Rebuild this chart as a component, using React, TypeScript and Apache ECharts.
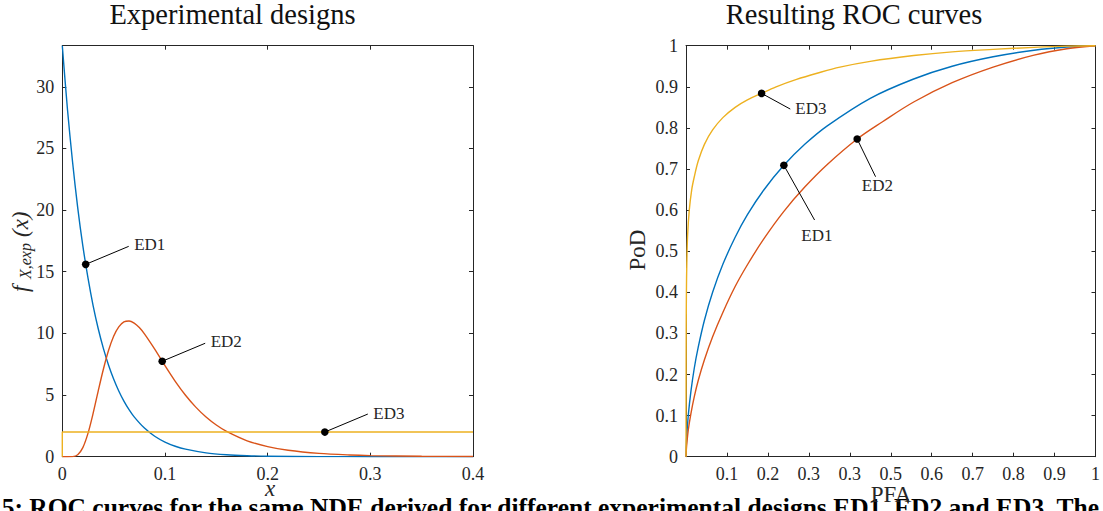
import React, { useEffect, useRef } from 'react';
import * as echarts from 'echarts';

const FONT = '"Liberation Serif", "Times New Roman", serif';
const TEXT = '#262626';
const AXIS = '#262626';
const BLUE = '#0072BD';
const ORANGE = '#D95319';
const YELLOW = '#EDB120';

// ---- Left panel: densities of the experimental designs ----
const densityXTickLabels = ['0', '0.1', '0.2', '0.3', '0.4'];
const densityYTickLabels = ['0', '5', '10', '15', '20', '25', '30'];

const ed1DensityX = [0, 0.005, 0.01, 0.015, 0.02, 0.025, 0.03, 0.035, 0.04, 0.045, 0.05, 0.055, 0.06, 0.065, 0.07, 0.08, 0.09, 0.1, 0.11, 0.12, 0.14, 0.16, 0.18, 0.2, 0.25, 0.3, 0.35, 0.4];
const ed1DensityY = [33.33, 28.2, 23.9, 20.2, 17.1, 14.5, 12.26, 10.38, 8.79, 7.44, 6.3, 5.33, 4.51, 3.82, 3.23, 2.32, 1.66, 1.19, 0.85, 0.61, 0.31, 0.16, 0.083, 0.042, 0.008, 0.0015, 0.0003, 0];

const ed2DensityX = [0, 0.005, 0.01, 0.015, 0.02, 0.025, 0.03, 0.035, 0.04, 0.045, 0.05, 0.055, 0.06, 0.065, 0.07, 0.075, 0.08, 0.09, 0.1, 0.11, 0.12, 0.13, 0.14, 0.15, 0.16, 0.18, 0.2, 0.22, 0.25, 0.28, 0.3, 0.35, 0.4];
const ed2DensityY = [0, 0, 0.01, 0.16, 0.74, 1.89, 3.51, 5.34, 7.09, 8.61, 9.77, 10.53, 10.93, 11.0, 10.83, 10.47, 9.96, 8.72, 7.38, 6.11, 4.98, 4.02, 3.22, 2.57, 2.05, 1.29, 0.82, 0.52, 0.27, 0.14, 0.09, 0.034, 0.013];

const ed3DensityX = [0, 0, 0.4];
const ed3DensityY = [0, 2, 2];

const densityMarkerNames = ['ED1', 'ED2', 'ED3'];
const densityMarkerX = [0.0228, 0.0973, 0.2557];
const densityMarkerY = [15.6, 7.74, 2];

// ---- Right panel: ROC curves ----
const rocXTickLabels = ['', '0.1', '0.2', '0.3', '0.3', '0.5', '0.6', '0.7', '0.8', '0.9', '1'];
const rocYTickLabels = ['0', '0.1', '0.2', '0.3', '0.4', '0.5', '0.6', '0.7', '0.8', '0.9', '1'];

const ed1RocX = [0, 0.0005, 0.002, 0.006, 0.012, 0.02, 0.03, 0.045, 0.065, 0.09, 0.12, 0.15, 0.19, 0.239, 0.29, 0.345, 0.45, 0.556, 0.65, 0.75, 0.85, 0.93, 1];
const ed1RocY = [0, 0.021, 0.053, 0.105, 0.159, 0.214, 0.267, 0.332, 0.4, 0.468, 0.534, 0.589, 0.649, 0.709, 0.76, 0.805, 0.872, 0.919, 0.95, 0.973, 0.989, 0.997, 1];

const ed2RocX = [0, 0.0005, 0.002, 0.006, 0.012, 0.02, 0.03, 0.045, 0.065, 0.09, 0.12, 0.15, 0.19, 0.239, 0.29, 0.345, 0.418, 0.48, 0.556, 0.65, 0.75, 0.85, 0.93, 1];
const ed2RocY = [0, 0.012, 0.032, 0.068, 0.105, 0.145, 0.186, 0.236, 0.292, 0.351, 0.414, 0.467, 0.53, 0.597, 0.656, 0.711, 0.773, 0.815, 0.863, 0.91, 0.948, 0.977, 0.9925, 1];

const ed3RocX = [0, 0.0002, 0.0005, 0.001, 0.002, 0.004, 0.008, 0.014, 0.02, 0.03, 0.045, 0.065, 0.09, 0.12, 0.15, 0.184, 0.22, 0.27, 0.32, 0.376, 0.45, 0.556, 0.65, 0.75, 0.85, 0.93, 1];
const ed3RocY = [0, 0.15, 0.3, 0.4, 0.47, 0.54, 0.6, 0.65, 0.68, 0.72, 0.76, 0.795, 0.825, 0.85, 0.868, 0.884, 0.9, 0.918, 0.933, 0.948, 0.962, 0.976, 0.985, 0.991, 0.996, 0.999, 1];

const rocMarkerNames = ['ED3', 'ED1', 'ED2'];
const rocMarkerX = [0.1846, 0.239, 0.418];
const rocMarkerY = [0.884, 0.709, 0.773];

const captionText = '5: ROC curves for the same NDE derived for different experimental designs ED1, ED2 and ED3. The';

// ---- styles (pixel offsets of the annotation leaders) ----
const densityLabelStyle = [
  { dx: 43, dy: -18, tx: 5.5, ty: -1.5, align: 'left' },
  { dx: 43, dy: -18, tx: 5.5, ty: -1.5, align: 'left' },
  { dx: 43, dy: -18, tx: 5.5, ty: -1, align: 'left' },
];
const rocLabelStyle = [
  { dx: 28.7, dy: 15.7, tx: 5, ty: -0.7, align: 'left' },
  { dx: 30.7, dy: 54.7, tx: 2.3, ty: 15, align: 'center' },
  { dx: 18.4, dy: 37.7, tx: 1.8, ty: 9, align: 'center' },
];

const zip = (xs: number[], ys: number[]) => xs.map((x, i) => [x, ys[i]]);

function lineSeries(xs: number[], ys: number[], color: string, axis: number, smooth: number | boolean) {
  return {
    type: 'line',
    xAxisIndex: axis,
    yAxisIndex: axis,
    data: zip(xs, ys),
    symbol: 'none',
    showSymbol: false,
    smooth,
    lineStyle: { color, width: 1.4 },
    silent: true,
    z: 3,
  };
}

function annotationSeries(axis: number, xs: number[], ys: number[], names: string[], styles: any[]) {
  return {
    type: 'custom',
    xAxisIndex: axis,
    yAxisIndex: axis,
    clip: false,
    silent: true,
    z: 10,
    data: zip(xs, ys),
    renderItem: (params: any, api: any) => {
      const i = params.dataIndex;
      const s = styles[i];
      const p = api.coord([api.value(0), api.value(1)]);
      const ex = p[0] + s.dx;
      const ey = p[1] + s.dy;
      return {
        type: 'group',
        children: [
          { type: 'line', shape: { x1: p[0], y1: p[1], x2: ex, y2: ey }, style: { stroke: '#000', lineWidth: 1 } },
          { type: 'circle', shape: { cx: p[0], cy: p[1], r: 3.8 }, style: { fill: '#000' } },
          {
            type: 'text',
            x: ex + s.tx,
            y: ey + s.ty,
            style: { text: names[i], fill: TEXT, fontFamily: FONT, fontSize: 17, align: s.align, verticalAlign: 'middle' },
          },
        ],
      };
    },
  };
}

function valueAxis(grid: number, position: string, min: number, max: number, interval: number, labels: string[] | null, extra: any = {}) {
  return {
    type: 'value',
    gridIndex: grid,
    position,
    min,
    max,
    interval,
    splitLine: { show: false },
    axisLine: { show: true, onZero: false, lineStyle: { color: AXIS, width: 1 } },
    axisTick: { show: true, inside: true, length: 4, lineStyle: { color: AXIS, width: 1 } },
    axisLabel: labels
      ? {
          show: true,
          margin: 8,
          color: TEXT,
          fontFamily: FONT,
          fontSize: 18,
          showMaxLabel: extra.showMaxLabel,
          formatter: (v: number) => {
            const k = Math.round((v - min) / interval);
            return Math.abs(min + k * interval - v) < 1e-6 && labels[k] !== undefined ? labels[k] : '';
          },
        }
      : { show: false },
  };
}

const option: any = {
  animation: false,
  backgroundColor: '#fff',
  grid: [
    { left: 62.3, top: 45.7, width: 410.7, height: 411 },
    { left: 686, top: 45.7, width: 410, height: 411 },
  ],
  xAxis: [
    valueAxis(0, 'bottom', 0, 0.4, 0.1, densityXTickLabels),
    valueAxis(0, 'top', 0, 0.4, 0.1, null),
    valueAxis(1, 'bottom', 0, 1, 0.1, rocXTickLabels),
    valueAxis(1, 'top', 0, 1, 0.1, null),
  ],
  yAxis: [
    valueAxis(0, 'left', 0, 33.333, 5, densityYTickLabels, { showMaxLabel: false }),
    valueAxis(0, 'right', 0, 33.333, 5, null),
    valueAxis(1, 'left', 0, 1, 0.1, rocYTickLabels),
    valueAxis(1, 'right', 0, 1, 0.1, null),
  ],
  series: [
    lineSeries(ed1DensityX, ed1DensityY, BLUE, 0, 0.3),
    lineSeries(ed2DensityX, ed2DensityY, ORANGE, 0, 0.3),
    lineSeries(ed3DensityX, ed3DensityY, YELLOW, 0, false),
    annotationSeries(0, densityMarkerX, densityMarkerY, densityMarkerNames, densityLabelStyle),
    lineSeries(ed1RocX, ed1RocY, BLUE, 2, 0.35),
    lineSeries(ed2RocX, ed2RocY, ORANGE, 2, 0.35),
    lineSeries(ed3RocX, ed3RocY, YELLOW, 2, 0.35),
    annotationSeries(2, rocMarkerX, rocMarkerY, rocMarkerNames, rocLabelStyle),
  ],
  graphic: [
    { type: 'text', x: 232.5, y: 14.7, style: { text: 'Experimental designs', fill: '#111', fontFamily: FONT, fontSize: 28.5, align: 'center', verticalAlign: 'middle' } },
    { type: 'text', x: 854, y: 14.7, style: { text: 'Resulting ROC curves', fill: '#111', fontFamily: FONT, fontSize: 28.5, align: 'center', verticalAlign: 'middle' } },
    { type: 'text', x: 270, y: 488, style: { text: 'x', fill: TEXT, fontFamily: FONT, fontStyle: 'italic', fontSize: 23, align: 'center', verticalAlign: 'middle' } },
    { type: 'text', x: 891, y: 494, style: { text: 'PFA', fill: TEXT, fontFamily: FONT, fontSize: 23, align: 'center', verticalAlign: 'middle' } },
    { type: 'text', x: 637, y: 250, rotation: Math.PI / 2, style: { text: 'PoD', fill: TEXT, fontFamily: FONT, fontSize: 23, align: 'center', verticalAlign: 'middle' } },
    {
      type: 'group',
      x: 20,
      y: 292,
      rotation: Math.PI / 2,
      children: [
        { type: 'text', x: 0, y: 0, style: { text: 'f', fill: TEXT, fontFamily: FONT, fontStyle: 'italic', fontSize: 23, align: 'left', verticalAlign: 'middle' } },
        { type: 'text', x: 13, y: 5, style: { text: 'X,exp', fill: TEXT, fontFamily: FONT, fontStyle: 'italic', fontSize: 16, align: 'left', verticalAlign: 'middle' } },
        { type: 'text', x: 55, y: 0, style: { text: '(x)', fill: TEXT, fontFamily: FONT, fontStyle: 'italic', fontSize: 23, align: 'left', verticalAlign: 'middle' } },
      ],
    },
    { type: 'text', x: 1.7, y: 507, z: -1, style: { text: captionText, fill: '#000', fontFamily: FONT, fontWeight: 'bold', fontSize: 25.5, align: 'left', verticalAlign: 'middle' } },
  ],
};

export default function App() {
  const ref = useRef<HTMLDivElement>(null);
  useEffect(() => {
    const chart = echarts.init(ref.current as HTMLDivElement, null, { renderer: 'svg' });
    chart.setOption(option);
    return () => chart.dispose();
  }, []);
  return (
    <div
      ref={ref}
      style={{ position: 'fixed', left: 0, top: 0, width: 1103, height: 511, background: '#fff' }}
    />
  );
}
